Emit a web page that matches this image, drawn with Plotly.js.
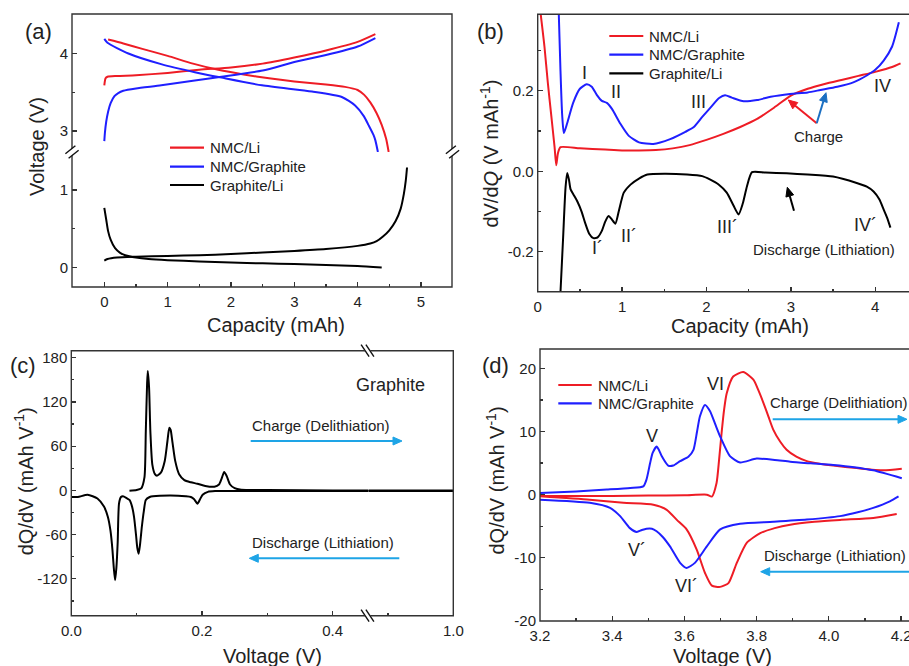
<!DOCTYPE html>
<html>
<head>
<meta charset="utf-8">
<script src="https://cdn.plot.ly/plotly-3.0.1.min.js"></script>
<style>html,body{margin:0;padding:0;background:#fff}#chart{width:909px;height:666px}</style>
</head>
<body>
<div id="chart"></div>
<script>
// ---------- Panel (a): voltage profiles ----------
const aLiChgQ = [0, 0.02, 0.05, 0.2, 0.5, 1.0, 1.5, 2.0, 2.5, 3.0, 3.5, 4.0, 4.28];
const aLiChgV = [3.59, 3.68, 3.70, 3.71, 3.72, 3.75, 3.79, 3.82, 3.87, 3.95, 4.04, 4.15, 4.25];
const aLiDisQ = [0.06, 0.3, 0.6, 1.0, 1.4, 1.8, 2.2, 2.6, 3.0, 3.5, 3.8, 4.0, 4.1, 4.2, 4.3, 4.38, 4.45, 4.49];
const aLiDisV = [4.18, 4.13, 4.06, 3.97, 3.87, 3.79, 3.73, 3.68, 3.64, 3.60, 3.57, 3.53, 3.47, 3.37, 3.23, 3.08, 2.90, 2.73];
const aGrChgQ = [0, 0.01, 0.03, 0.06, 0.1, 0.16, 0.22, 0.3, 0.5, 0.9, 1.4, 1.85, 2.5, 3.0, 3.5, 4.0, 4.28];
const aGrChgV = [2.87, 2.98, 3.12, 3.25, 3.36, 3.45, 3.49, 3.52, 3.55, 3.59, 3.65, 3.70, 3.78, 3.89, 3.98, 4.09, 4.20];
const aGrDisQ = [0, 0.05, 0.38, 0.91, 1.43, 1.85, 2.49, 3.28, 3.75, 3.96, 4.1, 4.17, 4.25, 4.28, 4.32];
const aGrDisV = [4.19, 4.14, 4.00, 3.86, 3.76, 3.69, 3.59, 3.51, 3.44, 3.33, 3.19, 3.08, 2.95, 2.88, 2.73];
const aHalfChgQ = [0, 0.05, 0.2, 0.5, 1.0, 1.5, 2.0, 2.5, 3.0, 3.5, 4.0, 4.2, 4.3, 4.4, 4.5, 4.6, 4.68, 4.73, 4.76, 4.78];
const aHalfChgV = [0.09, 0.11, 0.13, 0.14, 0.15, 0.16, 0.175, 0.195, 0.215, 0.24, 0.28, 0.31, 0.34, 0.40, 0.48, 0.60, 0.76, 0.95, 1.12, 1.29];
const aHalfDisQ = [0, 0.03, 0.06, 0.1, 0.17, 0.25, 0.33, 0.5, 0.7, 1.0, 1.5, 2.0, 2.5, 3.0, 3.5, 4.0, 4.38];
const aHalfDisV = [0.77, 0.62, 0.47, 0.36, 0.25, 0.19, 0.16, 0.13, 0.11, 0.095, 0.08, 0.065, 0.055, 0.045, 0.035, 0.02, 0.0];

// ---------- Panel (b): dV/dQ ----------
const bLiQ = [0.03, 0.08, 0.12, 0.16, 0.2, 0.22, 0.24, 0.27, 0.5, 0.8, 1.0, 1.2, 1.4, 1.6, 1.8, 2.0, 2.2, 2.4, 2.6, 2.8, 3.0, 3.2, 3.4, 3.6, 3.8, 4.0, 4.2, 4.3];
const bLiV = [0.40, 0.31, 0.22, 0.14, 0.06, 0.015, 0.045, 0.06, 0.057, 0.054, 0.052, 0.052, 0.053, 0.057, 0.065, 0.078, 0.093, 0.11, 0.13, 0.158, 0.188, 0.205, 0.217, 0.227, 0.237, 0.247, 0.259, 0.268];
const bGrQ = [0.25, 0.27, 0.29, 0.31, 0.35, 0.42, 0.5, 0.58, 0.64, 0.7, 0.76, 0.82, 0.88, 0.98, 1.08, 1.2, 1.37, 1.57, 1.75, 1.85, 1.95, 2.05, 2.15, 2.22, 2.3, 2.44, 2.6, 2.76, 2.99, 3.2, 3.35, 3.55, 3.74, 3.9, 4.0, 4.1, 4.2, 4.28];
const bGrV = [0.39, 0.25, 0.14, 0.095, 0.12, 0.17, 0.205, 0.216, 0.21, 0.19, 0.175, 0.17, 0.155, 0.118, 0.088, 0.072, 0.068, 0.08, 0.098, 0.11, 0.135, 0.159, 0.182, 0.189, 0.183, 0.174, 0.177, 0.185, 0.192, 0.196, 0.202, 0.21, 0.221, 0.238, 0.252, 0.275, 0.31, 0.37];
const bHalfQ = [0.27, 0.3, 0.33, 0.35, 0.37, 0.39, 0.43, 0.47, 0.52, 0.56, 0.61, 0.66, 0.71, 0.76, 0.8, 0.84, 0.88, 0.92, 0.96, 1.02, 1.1, 1.2, 1.3, 1.5, 1.77, 1.95, 2.04, 2.14, 2.24, 2.32, 2.38, 2.43, 2.48, 2.54, 2.7, 2.95, 3.2, 3.5, 3.78, 3.9, 3.98, 4.05, 4.1, 4.14, 4.18];
const bHalfV = [-0.30, -0.17, -0.04, -0.004, -0.02, -0.045, -0.06, -0.075, -0.1, -0.127, -0.155, -0.166, -0.164, -0.148, -0.125, -0.111, -0.12, -0.13, -0.1, -0.053, -0.033, -0.018, -0.008, -0.006, -0.008, -0.012, -0.02, -0.032, -0.053, -0.085, -0.107, -0.08, -0.037, -0.002, -0.003, -0.005, -0.008, -0.013, -0.029, -0.038, -0.05, -0.07, -0.095, -0.115, -0.14];

// ---------- Panel (c): graphite dQ/dV ----------
const cChgV = [0.089, 0.1, 0.107, 0.112, 0.114, 0.116, 0.117, 0.119, 0.121, 0.124, 0.128, 0.131, 0.137, 0.143, 0.147, 0.15, 0.152, 0.155, 0.159, 0.165, 0.173, 0.183, 0.193, 0.205, 0.219, 0.226, 0.23, 0.234, 0.238, 0.243, 0.25, 0.26, 0.3, 0.4, 0.4545];
const cChgQ = [-0.5, 0.5, 2.7, 18, 80, 145, 162, 140, 80, 35, 22, 20, 24, 40, 66, 85, 82, 64, 40, 22, 14, 11, 9, 6, 5, 8, 16, 25, 19, 8, 3, 1, 0.5, 0, 0];
const cDisV = [0, 0.01, 0.025, 0.04, 0.05, 0.056, 0.06, 0.063, 0.065, 0.067, 0.069, 0.071, 0.073, 0.076, 0.079, 0.084, 0.089, 0.093, 0.096, 0.099, 0.101, 0.103, 0.105, 0.108, 0.111, 0.114, 0.12, 0.125, 0.152, 0.175, 0.183, 0.188, 0.193, 0.197, 0.201, 0.209, 0.22, 0.3, 0.4545];
const cDisQ = [-9, -9, -6, -11, -22, -36, -55, -81, -105, -122, -105, -70, -18, -9, -8, -10, -13, -22, -36, -60, -78, -86, -75, -49, -28, -13, -9, -8, -7, -8, -9, -12, -18, -12, -6, -2, -1, -1, -1];
const cTailV = [0.87, 1.0];
const cTailChgQ = [0, 0];
const cTailDisQ = [-1, -1];

// ---------- Panel (d): full-cell dQ/dV ----------
const dLiChgV = [3.2, 3.3, 3.4, 3.5, 3.6, 3.662, 3.676, 3.689, 3.696, 3.703, 3.71, 3.717, 3.735, 3.763, 3.791, 3.805, 3.819, 3.833, 3.846, 3.865, 3.883, 3.91, 3.939, 3.975, 4.012, 4.077, 4.151, 4.202];
const dLiChgQ = [-0.2, -0.2, -0.2, -0.15, -0.1, 0, -0.3, 1.85, 5.5, 9.8, 13.5, 16, 18.7, 19.4, 18.2, 16.5, 14.5, 12.3, 10.3, 8.4, 7.1, 6.0, 5.3, 4.9, 4.6, 4.2, 3.85, 4.1];
const dGrChgV = [3.2, 3.3, 3.385, 3.45, 3.486, 3.495, 3.505, 3.512, 3.523, 3.53, 3.537, 3.555, 3.569, 3.588, 3.611, 3.625, 3.635, 3.643, 3.657, 3.671, 3.685, 3.699, 3.726, 3.754, 3.8, 3.85, 3.893, 3.95, 4.012, 4.07, 4.123, 4.202];
const dGrChgQ = [0.27, 0.5, 0.8, 1.05, 1.3, 2.4, 5.0, 6.6, 7.6, 7.0, 6.1, 4.6, 4.6, 5.3, 6.0, 7.1, 10, 12.4, 14.2, 13.2, 11.2, 9.2, 6.1, 5.1, 5.7, 5.5, 5.2, 4.95, 4.7, 4.35, 3.85, 2.6];
const dLiDisV = [3.2, 3.338, 3.431, 3.514, 3.551, 3.579, 3.606, 3.634, 3.657, 3.676, 3.699, 3.722, 3.745, 3.773, 3.81, 3.85, 3.893, 3.96, 4.031, 4.123, 4.188];
const dLiDisQ = [-0.26, -0.8, -1.3, -1.6, -2.4, -4, -5.5, -8.7, -12.4, -14.4, -14.6, -14, -10.8, -7.6, -6.1, -5.3, -4.75, -4.3, -4.0, -3.7, -3.06];
const dGrDisV = [3.2, 3.338, 3.394, 3.422, 3.449, 3.468, 3.482, 3.495, 3.51, 3.523, 3.54, 3.56, 3.588, 3.606, 3.629, 3.662, 3.699, 3.754, 3.846, 3.939, 4.031, 4.08, 4.123, 4.169, 4.193];
const dGrDisQ = [-0.8, -1.3, -2.1, -3.4, -5.3, -5.9, -5.6, -5.4, -5.4, -5.8, -6.7, -8.2, -10.8, -11.6, -10.8, -8.2, -5.5, -4.6, -4.3, -3.95, -3.4, -2.8, -2.1, -1.06, -0.27];

// ---------- tick labels & legend names ----------
const aXTicks = [0, 1, 2, 3, 4, 5];
const aYLowTicks = [0, 1];
const aYUpTicks = [3, 4];
const bXTicks = [0, 1, 2, 3, 4];
const bYTickVals = [-0.2, 0.0, 0.2];
const bYTickText = ["-0.2", "0.0", "0.2"];
const cXTickVals = [0, 0.2, 0.4];
const cXTickText = ["0.0", "0.2", "0.4"];
const cXTailTickVals = [1.0];
const cXTailTickText = ["1.0"];
const cYTickVals = [-120, -60, 0, 60, 120, 180];
const cYTickText = ["-120", "-60", "0", "60", "120", "180"];
const dXTickVals = [3.2, 3.4, 3.6, 3.8, 4.0, 4.2];
const dXTickText = ["3.2", "3.4", "3.6", "3.8", "4.0", "4.2"];
const dYTickVals = [-20, -10, 0, 10, 20];
const dYTickText = ["-20", "-10", "0", "10", "20"];
const seriesNames = ["NMC/Li", "NMC/Graphite", "Graphite/Li"];

// ---------- styling / geometry ----------
const W = 909, H = 666;
const X = px => px / W;
const Y = py => 1 - py / H;
const RED = '#ee1c25', BLUE = '#1f1fff', BLACK = '#000000', SKY = '#1ea4e6', DBLUE = '#1b6fc2';
const COLORS = [RED, BLUE, BLACK];
const FONT = 'Arial, "Liberation Sans", sans-serif';
const LW = 2;

function ln(x, y, xa, ya, color, name) {
  return {x: x, y: y, xaxis: xa, yaxis: ya, type: 'scatter', mode: 'lines',
    line: {color: color, width: LW, shape: 'spline', smoothing: 0.6},
    name: name, showlegend: false, hoverinfo: 'skip'};
}

const data = [
  ln(aLiChgQ, aLiChgV, 'x', 'y2', RED, 'NMC/Li charge'),
  ln(aLiDisQ, aLiDisV, 'x', 'y2', RED, 'NMC/Li discharge'),
  ln(aGrChgQ, aGrChgV, 'x', 'y2', BLUE, 'NMC/Graphite charge'),
  ln(aGrDisQ, aGrDisV, 'x', 'y2', BLUE, 'NMC/Graphite discharge'),
  ln(aHalfChgQ, aHalfChgV, 'x', 'y', BLACK, 'Graphite/Li delithiation'),
  ln(aHalfDisQ, aHalfDisV, 'x', 'y', BLACK, 'Graphite/Li lithiation'),

  ln(bLiQ, bLiV, 'x2', 'y3', RED, 'NMC/Li'),
  ln(bGrQ, bGrV, 'x2', 'y3', BLUE, 'NMC/Graphite'),
  ln(bHalfQ, bHalfV, 'x2', 'y3', BLACK, 'Graphite/Li'),

  ln(cChgV, cChgQ, 'x3', 'y4', BLACK, 'Graphite charge'),
  ln(cDisV, cDisQ, 'x3', 'y4', BLACK, 'Graphite discharge'),
  ln(cTailV, cTailChgQ, 'x4', 'y4', BLACK, 'Graphite charge'),
  ln(cTailV, cTailDisQ, 'x4', 'y4', BLACK, 'Graphite discharge'),

  ln(dLiChgV, dLiChgQ, 'x5', 'y5', RED, 'NMC/Li charge'),
  ln(dGrChgV, dGrChgQ, 'x5', 'y5', BLUE, 'NMC/Graphite charge'),
  ln(dLiDisV, dLiDisQ, 'x5', 'y5', RED, 'NMC/Li discharge'),
  ln(dGrDisV, dGrDisQ, 'x5', 'y5', BLUE, 'NMC/Graphite discharge')
];

function mn(dt, t0) { return {dtick: dt, tick0: t0, ticks: 'inside', ticklen: 3, tickcolor: '#333'}; }
function ax(domain, range, extra, isX) {
  return Object.assign({
    domain: domain, range: range, autorange: false,
    showline: false, zeroline: false, showgrid: false,
    ticks: 'inside', ticklen: 5, tickwidth: 1.3, tickcolor: '#333',
    ticklabelstandoff: isX ? 4 : 3, ticklabeloverflow: 'allow',
    tickfont: {family: FONT, size: 15, color: '#222'},
    fixedrange: true
  }, extra);
}

const layout = {
  width: W, height: H,
  margin: {l: 0, r: 0, t: 0, b: 0, pad: 0},
  paper_bgcolor: '#fff', plot_bgcolor: 'rgba(0,0,0,0)',
  font: {family: FONT, size: 15, color: '#222'},
  showlegend: false,
  // (a)
  xaxis: ax([X(72), X(452)], [-0.51, 5.49], {anchor: 'y', tickmode: 'array', tickvals: aXTicks, minor: mn(0.5, 0)}, true),
  yaxis: ax([Y(287), Y(152)], [-0.25, 1.49], {anchor: 'x', tickmode: 'array', tickvals: aYLowTicks, minor: mn(0.5, 0)}),
  yaxis2: ax([Y(152), Y(14)], [2.73, 4.51], {anchor: 'x', tickmode: 'array', tickvals: aYUpTicks, minor: mn(0.5, 0)}),
  // (b)
  xaxis2: ax([X(537.7), 1], [0, 4.4], {anchor: 'y3', tickmode: 'array', tickvals: bXTicks, minor: mn(0.5, 0)}, true),
  yaxis3: ax([Y(291.7), Y(14.3)], [-0.299, 0.39], {anchor: 'x2', tickmode: 'array', tickvals: bYTickVals, ticktext: bYTickText, minor: mn(0.1, 0)}),
  // (c)
  xaxis3: ax([X(71.3), X(368.3)], [0, 0.4545], {anchor: 'y4', tickmode: 'array', tickvals: cXTickVals, ticktext: cXTickText, minor: mn(0.1, 0)}, true),
  xaxis4: ax([X(368.3), X(453.3)], [0.87, 1.0], {anchor: 'y4', tickmode: 'array', tickvals: cXTailTickVals, ticktext: cXTailTickText, minor: mn(0.1, 0)}, true),
  yaxis4: ax([Y(615.7), Y(350.7)], [-170, 189.5], {anchor: 'x3', tickmode: 'array', tickvals: cYTickVals, ticktext: cYTickText, minor: mn(30, 0)}),
  // (d)
  xaxis5: ax([X(540), 1], [3.2, 4.222], {anchor: 'y5', tickmode: 'array', tickvals: dXTickVals, ticktext: dXTickText, minor: mn(0.1, 3.2)}, true),
  yaxis5: ax([Y(621), Y(349)], [-20, 23.05], {anchor: 'x5', tickmode: 'array', tickvals: dYTickVals, ticktext: dYTickText, minor: mn(5, 0)}),
  shapes: [],
  annotations: []
};

// frames
const frames = [[72, 14, 452, 287], [537.7, 14.3, 915, 291.7], [71.3, 350.7, 453.3, 615.7], [540, 349, 915, 621]];
frames.forEach(f => layout.shapes.push({type: 'rect', xref: 'paper', yref: 'paper',
  x0: X(f[0]), x1: X(f[2]), y0: Y(f[3]), y1: Y(f[1]), line: {color: '#333', width: 1.4}, fillcolor: 'rgba(0,0,0,0)'}));

function seg(x0, y0, x1, y1, color, width) {
  layout.shapes.push({type: 'line', xref: 'paper', yref: 'paper',
    x0: X(x0), y0: Y(y0), x1: X(x1), y1: Y(y1), line: {color: color, width: width}});
}
// axis-break marks
function brk(cx, cy, dx, dy, ox, oy) {
  seg(cx - dx, cy - dy, cx + dx, cy + dy, '#fff', 5);
  [-1, 1].forEach(s => seg(cx - dx + s * ox, cy - dy + s * oy, cx + dx + s * ox, cy + dy + s * oy, '#111', 1.4));
}
brk(72, 152, 5, -4, 1.6, 2.2);
brk(452.5, 152, 5, -4, 1.6, 2.2);
brk(367.5, 350.7, -4, -6, 2.4, 0);
brk(367.5, 615.7, -4, -6, 2.4, 0);

function txt(t, px, py, size, extra) {
  layout.annotations.push(Object.assign({text: t, xref: 'paper', yref: 'paper', x: X(px), y: Y(py),
    xanchor: 'center', yanchor: 'middle', showarrow: false, font: {family: FONT, size: size, color: '#222'}}, extra || {}));
}
// arrows drawn as a shaft plus a filled triangular head
function arrow(tipx, tipy, tailx, taily, color) {
  const dx = tipx - tailx, dy = tipy - taily, L = Math.hypot(dx, dy);
  const ux = dx / L, uy = dy / L, hl = 9, hw = 4;
  const bx = tipx - ux * hl, by = tipy - uy * hl;
  seg(tailx, taily, bx, by, color, 2);
  const p = [[tipx, tipy], [bx - uy * hw, by + ux * hw], [bx + uy * hw, by - ux * hw]];
  layout.shapes.push({type: 'path', xref: 'paper', yref: 'paper',
    path: 'M' + p.map(q => X(q[0]) + ',' + Y(q[1])).join(' L') + ' Z',
    fillcolor: color, line: {color: color, width: 1}});
}
// manual legend block
function legendBlock(lx0, lx1, tx, rows, idx) {
  idx.forEach((k, i) => {
    seg(lx0, rows[i], lx1, rows[i], COLORS[k], 2.2);
    txt(seriesNames[k], tx, rows[i], 15, {xanchor: 'left'});
  });
}
legendBlock(170, 204, 208, [147.7, 166.7, 185], [0, 1, 2]);
legendBlock(609.3, 643.3, 647, [36, 54.7, 73.3], [0, 1, 2]);
legendBlock(558.3, 591.7, 595.5, [385, 403.3], [0, 1]);

// panel labels
txt('(a)', 38.3, 31.7, 22);
txt('(b)', 490, 31.7, 22);
txt('(c)', 23.3, 365, 22);
txt('(d)', 495, 365, 22);

// axis titles
txt('Capacity (mAh)', 276, 325, 20);
txt('Capacity (mAh)', 739.5, 325.5, 20);
txt('Voltage (V)', 272.7, 655.5, 20);
txt('Voltage (V)', 722.7, 655.5, 20);
txt('Voltage (V)', 37, 147, 20, {textangle: -90});
txt('dV/d<i>Q</i> (V mAh<sup>-1</sup>)', 489.3, 153.3, 20, {textangle: -90});
txt('dQ/dV (mAh V<sup>-1</sup>)', 23.3, 481, 20, {textangle: -90});
txt('dQ/dV (mAh V<sup>-1</sup>)', 495, 480.5, 20, {textangle: -90});

// (b) peak labels
txt('I', 584.7, 73.3, 18);
txt('II', 616, 92.3, 18);
txt('III', 698.7, 102.3, 18);
txt('IV', 882, 85.7, 18);
txt('I´', 597, 248.3, 18);
txt('II´', 628.7, 236, 18);
txt('III´', 727, 226.7, 18);
txt('IV´', 865.3, 225, 18);
txt('Charge', 818, 136.7, 15);
txt('Discharge (Lithiation)', 823.7, 249.3, 15);
arrow(788.3, 100, 816.7, 123.3, RED);
arrow(826, 92.7, 816.7, 123.3, DBLUE);
arrow(787.3, 187.3, 794, 210.7, BLACK);

// (c)
txt('Graphite', 390, 385, 18);
txt('Charge (Delithiation)', 320.7, 425, 15);
txt('Discharge (Lithiation)', 322.7, 542.7, 15);
arrow(402, 441, 250.7, 441, SKY);
arrow(249.3, 558.3, 399.3, 558.3, SKY);

// (d)
txt('VI', 715, 384, 18);
txt('V', 651.7, 436.3, 18);
txt('V´', 636.7, 550, 18);
txt('VI´', 686.7, 586.3, 18);
txt('Charge (Delithiation)', 839, 402.3, 15);
txt('Discharge (Lithiation)', 835, 555.7, 15);
arrow(907, 419.3, 772.7, 419.3, SKY);
arrow(760.7, 571.7, 909, 571.7, SKY);

Plotly.newPlot('chart', data, layout, {staticPlot: true, displayModeBar: false});
</script>
</body>
</html>
